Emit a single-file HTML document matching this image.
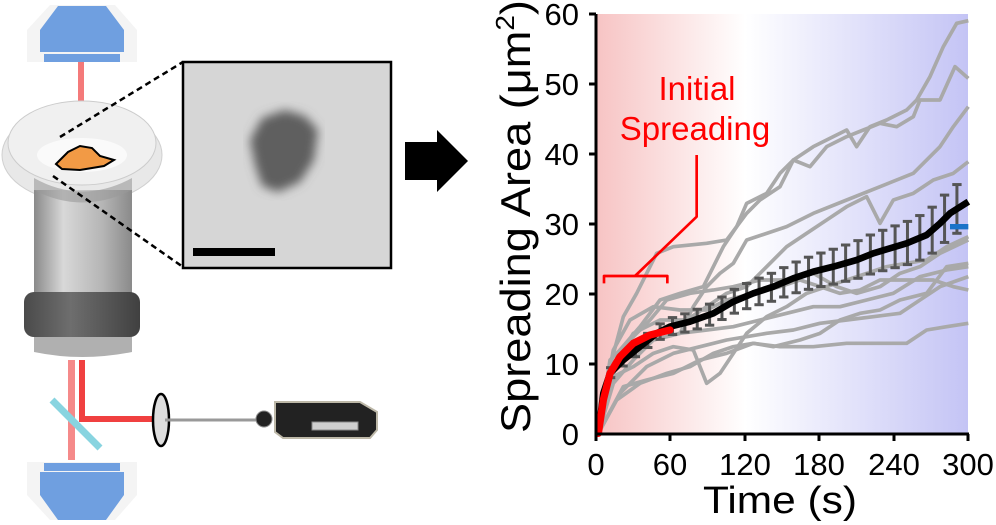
<!DOCTYPE html>
<html><head><meta charset="utf-8"><style>
html,body{margin:0;padding:0;background:#fff;width:996px;height:525px;overflow:hidden}
svg{display:block}
</style></head><body>
<svg width="996" height="525" viewBox="0 0 996 525" xmlns="http://www.w3.org/2000/svg" font-family="Liberation Sans, Arial, sans-serif">
<defs>
<linearGradient id="bg" x1="0" x2="1" y1="0" y2="0">
<stop offset="0" stop-color="#f7c4c4"/><stop offset="0.4" stop-color="#ffffff"/><stop offset="1" stop-color="#c4c4f5"/>
</linearGradient>
<linearGradient id="cyl" x1="0" x2="1">
<stop offset="0" stop-color="#8a8a8a"/><stop offset="0.3" stop-color="#d8d8d8"/><stop offset="0.7" stop-color="#b5b5b5"/><stop offset="1" stop-color="#8a8a8a"/>
</linearGradient>
<linearGradient id="band" x1="0" x2="1">
<stop offset="0" stop-color="#4a4a4a"/><stop offset="0.4" stop-color="#6e6e6e"/><stop offset="1" stop-color="#404040"/>
</linearGradient>
<filter id="blur"><feGaussianBlur stdDeviation="5"/></filter>
</defs>

<!-- top objective -->
<path d="M27,30 L50,5 L115,5 L137,30 L137,62 L27,62 Z" fill="#f4f4f4"/>
<path d="M40,30 L58,6 L106,6 L124,30 L124,52 L40,52 Z" fill="#6f9fe0"/>
<rect x="44" y="54" width="76" height="8" fill="#6f9fe0"/>
<rect x="78" y="62" width="6" height="100" fill="#f47a7a"/>
<!-- dish -->
<ellipse cx="82" cy="155" rx="80" ry="48" fill="#e8e8e8" stroke="#d0d0d0"/>
<ellipse cx="82" cy="143" rx="74" ry="42" fill="#f0f0f0" stroke="#ccc"/>
<ellipse cx="82" cy="155" rx="45" ry="17" fill="#fafafa"/>
<path d="M56,164 L68,152 L80,146 L92,148 L100,156 L114,160 L104,166 L80,170 L62,169 Z" fill="#f29a45" stroke="#000" stroke-width="2"/>
<!-- cylinder -->
<rect x="34" y="190" width="98" height="105" fill="url(#cyl)"/>
<path d="M34,190 Q82,215 132,190 L132,178 Q82,205 34,178Z" fill="#9a9a9a" opacity="0.6"/>
<rect x="24" y="292" width="116" height="45" rx="10" fill="url(#band)"/>
<path d="M34,337 L132,337 L132,352 Q82,362 34,352Z" fill="#b0b0b0"/>
<!-- beams bottom -->
<rect x="68" y="360" width="7" height="100" fill="#f58a8a"/>
<rect x="79" y="360" width="6" height="62" fill="#f04040"/>
<rect x="79" y="416" width="80" height="6" fill="#f04040"/>
<line x1="52" y1="400" x2="100" y2="448" stroke="#88d4e0" stroke-width="7"/>
<ellipse cx="161" cy="420" rx="8" ry="26" fill="#ddd" stroke="#000" stroke-width="2.5"/>
<line x1="165" y1="420" x2="256" y2="420" stroke="#999" stroke-width="3"/>
<!-- camera -->
<circle cx="264" cy="419" r="8" fill="#222" stroke="#888"/>
<path d="M275,402 L360,402 L377,412 L377,430 L370,438 L283,438 L275,432Z" fill="#222" stroke="#bdb8a8" stroke-width="2"/>
<rect x="312" y="422" width="46" height="8" fill="#cfcfcf" stroke="#888"/>
<!-- bottom objective -->
<path d="M27,462 L137,462 L137,495 L115,520 L50,520 L27,495Z" fill="#f4f4f4"/>
<rect x="44" y="463" width="76" height="8" fill="#6f9fe0"/>
<path d="M40,472 L124,472 L124,495 L106,520 L58,520 L40,495Z" fill="#6f9fe0"/>
<!-- dashed zoom lines -->
<line x1="60" y1="137" x2="183" y2="62" stroke="#000" stroke-width="2.5" stroke-dasharray="6,4"/>
<line x1="53" y1="176" x2="183" y2="267" stroke="#000" stroke-width="2.5" stroke-dasharray="6,4"/>
<!-- inset -->
<rect x="183" y="62" width="208" height="206" fill="#d6d6d6" stroke="#000" stroke-width="2.5"/>
<path d="M250,140 L262,118 L285,110 L305,116 L318,130 L314,160 L300,182 L278,192 L262,186 L255,165 Z" fill="#5e5e5e" filter="url(#blur)"/>
<rect x="193" y="248" width="82" height="8" fill="#000"/>
<!-- arrow -->
<path d="M405,142 L437,142 L437,130 L468,161 L437,192 L437,180 L405,180Z" fill="#000"/>

<!-- chart -->
<rect x="597" y="14" width="371" height="419" fill="url(#bg)"/>
<g transform="translate(580,0) scale(0.33333)" fill="none" stroke="#a9a9a9" stroke-width="11" stroke-linejoin="round">
<polyline points="55,1300 90,1100 130,950 170,880 230,760 280,740 380,730 440,720 500,640 540,600 600,560 640,480 700,440 760,410 800,390 830,440 870,380 920,360 980,330 1010,300 1050,230 1090,140 1130,70 1165,62"/>
<polyline points="55,1300 80,1200 120,1050 180,980 240,900 300,880 370,860 400,800 430,740 470,680 500,610 560,580 600,520 640,480 690,500 740,440 800,410 850,390 900,370 950,380 1000,350 1020,300 1080,300 1125,200 1165,235"/>
<polyline points="55,1300 100,1150 160,1080 220,1020 300,1000 340,920 380,860 420,820 460,790 500,720 560,700 620,680 700,640 800,600 900,560 1000,520 1080,440 1120,380 1165,320"/>
<polyline points="55,1300 100,1100 160,1000 240,960 320,960 380,920 440,880 500,860 560,800 620,740 680,700 740,660 800,620 860,590 900,670 940,600 1000,580 1060,540 1120,520 1165,485"/>
<polyline points="55,1300 100,1130 160,1100 220,1060 280,1040 340,1050 380,1150 420,1120 460,1060 500,1000 560,950 620,920 680,880 740,860 800,840 860,820 920,800 980,790 1040,780 1100,740 1165,710"/>
<polyline points="55,1300 110,1200 180,1150 260,1120 330,1100 400,1060 460,1040 520,1030 580,1040 660,1020 720,1000 780,960 840,940 900,930 960,900 1040,880 1100,800 1165,790"/>
<polyline points="55,1300 120,1180 200,1100 280,1060 360,1040 440,1020 500,1010 560,1000 640,990 720,970 800,960 880,950 960,940 1020,900 1080,860 1165,830"/>
<polyline points="55,1300 130,1160 200,1140 280,1120 360,1080 440,1060 520,1030 600,1040 700,1040 800,1030 900,1030 980,1030 1040,990 1100,980 1165,970"/>
<polyline points="55,1300 90,1080 150,1020 210,960 260,900 330,880 400,870 460,860 540,840 620,840 700,820 770,860 830,880 900,860 960,820 1020,800 1080,760 1165,720"/>
<polyline points="55,1300 100,1050 150,960 220,920 300,930 380,930 440,900 520,880 600,860 660,840 720,860 780,880 840,870 900,840 980,840 1060,840 1120,860 1165,870"/>
<polyline points="55,1300 90,1120 150,1060 220,1020 300,1000 380,990 460,980 540,960 620,940 700,920 780,920 860,900 940,880 1020,830 1100,810 1165,800"/>
<g id="eb" stroke="#555" stroke-width="9"></g>
<polyline points="55,1300 70,1180 90,1120 130,1080 180,1040 230,1000 270,980 330,965 400,940 460,905 520,880 580,860 640,835 700,815 760,800 830,780 880,760 930,745 980,730 1040,705 1080,670 1110,640 1165,605" stroke="#000" stroke-width="20"/>
<line x1="1110" y1="680" x2="1165" y2="680" stroke="#1a73c8" stroke-width="16"/>
<polyline points="55,1300 70,1200 90,1120 120,1070 160,1030 210,1005 270,990" stroke="#ff0000" stroke-width="22" stroke-linecap="round"/>
<polyline points="72,850 72,828 262,828 262,850" stroke="#f00" stroke-width="8"/>
<polyline points="165,828 350,650 350,465" stroke="#f00" stroke-width="8"/>
</g>
<text x="697" y="100" font-size="33" fill="#f00" text-anchor="middle">Initial</text>
<text x="695" y="140" font-size="33" fill="#f00" text-anchor="middle">Spreading</text>
<!-- axes -->
<g stroke="#000" stroke-width="3">
<line x1="596" y1="14" x2="596" y2="434"/>
<line x1="596" y1="434" x2="969" y2="434"/>
<line x1="589" y1="14" x2="596" y2="14"/><line x1="589" y1="84" x2="596" y2="84"/><line x1="589" y1="154" x2="596" y2="154"/><line x1="589" y1="224" x2="596" y2="224"/><line x1="589" y1="294" x2="596" y2="294"/><line x1="589" y1="364" x2="596" y2="364"/>
<line x1="596" y1="434" x2="596" y2="441"/><line x1="670" y1="434" x2="670" y2="441"/><line x1="745" y1="434" x2="745" y2="441"/><line x1="819" y1="434" x2="819" y2="441"/><line x1="894" y1="434" x2="894" y2="441"/><line x1="968" y1="434" x2="968" y2="441"/>
</g>
<g font-size="31" text-anchor="end" fill="#000">
<text x="579" y="25">60</text><text x="579" y="95">50</text><text x="579" y="165">40</text><text x="579" y="235">30</text><text x="579" y="305">20</text><text x="579" y="375">10</text><text x="579" y="445">0</text>
</g>
<g font-size="31" text-anchor="middle" fill="#000">
<text x="596" y="475">0</text><text x="670" y="475">60</text><text x="745" y="475">120</text><text x="819" y="475">180</text><text x="894" y="475">240</text><text x="968" y="475">300</text>
</g>
<text x="780" y="513" font-size="38" text-anchor="middle" textLength="154" lengthAdjust="spacingAndGlyphs">Time (s)</text>
<text transform="translate(530,433) rotate(-90)" font-size="42" textLength="433" lengthAdjust="spacingAndGlyphs">Spreading Area (μm<tspan font-size="26" dy="-16">2</tspan><tspan dy="16">)</tspan></text>
</svg>
<script>
(function(){
var pts=[[55,1300],[70,1180],[90,1120],[130,1080],[180,1040],[230,1000],[270,980],[330,965],[400,940],[460,905],[520,880],[580,860],[640,835],[700,815],[760,800],[830,780],[880,760],[930,745],[980,730],[1040,705],[1080,670],[1110,640],[1165,605]];
function y(x){for(var i=1;i<pts.length;i++){if(x<=pts[i][0]){var a=pts[i-1],b=pts[i];return a[1]+(b[1]-a[1])*(x-a[0])/(b[0]-a[0]);}}return 605;}
var g=document.getElementById('eb'),s='';
for(var x=92;x<=1165;x+=37.1){var c=y(x),h=15+60*(x-92)/1073;
s+='<line x1="'+x+'" y1="'+(c-h)+'" x2="'+x+'" y2="'+(c+h)+'"/><line x1="'+(x-14)+'" y1="'+(c-h)+'" x2="'+(x+14)+'" y2="'+(c-h)+'"/><line x1="'+(x-14)+'" y1="'+(c+h)+'" x2="'+(x+14)+'" y2="'+(c+h)+'"/>';}
g.innerHTML=s;
})();
</script>
</body></html>
